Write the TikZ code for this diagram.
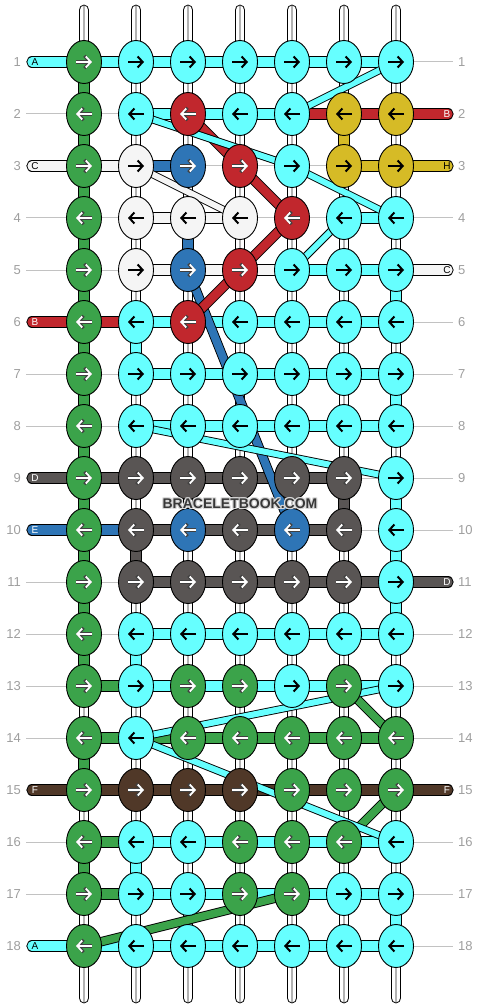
\documentclass[tikz,border=0pt]{standalone}
\usepackage{fontspec}
\setmainfont{Liberation Sans}
\usetikzlibrary{arrows.meta,shapes.geometric,calc}
\definecolor{cC}{RGB}{102,255,255}
\definecolor{cG}{RGB}{59,163,74}
\definecolor{cR}{RGB}{193,39,45}
\definecolor{cB}{RGB}{46,117,182}
\definecolor{cW}{RGB}{245,245,245}
\definecolor{cY}{RGB}{214,187,38}
\definecolor{cD}{RGB}{89,85,84}
\definecolor{cN}{RGB}{80,56,40}
\tikzset{
  seg/.style={draw=#1, line width=9.2pt, preaction={draw=black, line width=11.2pt}},
  endbar/.style={draw=#1, line width=9.2pt, line cap=round, preaction={draw=black, line width=11.2pt, line cap=round}},
  diag/.style 2 args={draw=#1, line width=#2, preaction={draw=black, line width=#2+1.8pt}},
  tube/.style={draw=white, line width=8.8pt, line cap=round, preaction={draw=black, line width=10.8pt, line cap=round}},
  tubeline/.style={draw=black!30, line width=1.2pt},
  rowline/.style={draw=black!24, line width=1pt},
  knot/.style={ellipse, draw=black, line width=0.9pt, minimum width=35pt, minimum height=43pt, inner sep=0pt},
  barr/.style={draw=black, line width=2pt, -{Straight Barb[length=5pt,width=11pt]}},
  warr/.style={draw=white, line width=1.8pt, -{Straight Barb[length=5pt,width=11pt]},
     preaction={draw=black!75, line width=3.1pt, -{Straight Barb[length=5.5pt,width=12.4pt]}}},
  arrC/.style={barr}, arrW/.style={barr}, arrY/.style={barr},
  arrG/.style={warr}, arrR/.style={warr}, arrB/.style={warr}, arrD/.style={warr}, arrN/.style={warr},
  lbl/.style={text=black!38, inner sep=0pt, font=\fontsize{13}{13}\selectfont},
  endtxt/.style={inner sep=0pt, text=#1, font=\fontsize{10}{10}\selectfont},
  wmark/.style={inner sep=0pt, text=#1, font=\bfseries\fontsize{14}{14}\selectfont},
}
\begin{document}
\begin{tikzpicture}[x=1pt,y=-1pt]
\useasboundingbox (0,0) rectangle (480,1008);
% grid coordinates
\foreach \ci in {1,...,7}{\foreach \ri in {1,...,18}{
  \coordinate (p\ci-\ri) at ({84+52*(\ci-1)},{62+52*(\ri-1)});}}
\foreach \ri in {1,...,18}{
  \coordinate (L\ri) at (32,{62+52*(\ri-1)});
  \coordinate (R\ri) at (448,{62+52*(\ri-1)});
  \coordinate (gl\ri) at (26,{62+52*(\ri-1)});
  \coordinate (gr\ri) at (453,{62+52*(\ri-1)});}
\foreach \ci in {1,...,7}{
  \coordinate (t\ci) at ({84+52*(\ci-1)},10);
  \coordinate (b\ci) at ({84+52*(\ci-1)},998);
  \coordinate (tt\ci) at ({84+52*(\ci-1)},6);
  \coordinate (bb\ci) at ({84+52*(\ci-1)},1002);}
% row guide lines
\foreach \ri in {1,...,18}{\draw[rowline] (gl\ri) -- (gr\ri);}
% base strands
\foreach \ci in {1,...,7}{\draw[tube] (t\ci) -- (b\ci); \draw[tubeline] (tt\ci) -- (bb\ci);}
% vertical coloured segments (between row ri and ri+1)
\foreach \ci/\ri/\k in {1/1/G,1/2/G,1/3/G,1/4/G,1/5/G,1/6/G,1/7/G,1/8/G,1/9/G,1/10/G,1/11/G,1/12/G,1/14/G,1/16/G,
  2/6/C,2/10/D,2/12/C,2/16/C, 3/4/B, 6/2/Y,6/9/D, 7/5/C,7/7/C,7/9/C,7/10/C,7/11/C,7/17/C}{
  \pgfmathtruncatemacro\rn{\ri+1}
  \draw[seg=c\k] (p\ci-\ri) -- (p\ci-\rn);}
% horizontal coloured segments (between col ci and ci+1)
\foreach \ri/\ci/\k in {1/1/C,1/2/C,1/3/C,1/4/C,1/5/C,1/6/C,
  2/2/C,2/3/C,2/4/C,2/5/R,2/6/R,
  3/1/W,3/2/B,3/6/Y,
  4/2/W,4/3/W,4/6/C,
  5/2/W,5/3/W,5/4/W,5/5/C,5/6/C,
  6/1/R,6/2/C,6/3/C,6/4/C,6/5/C,6/6/C,
  7/2/C,7/3/C,7/4/C,7/5/C,7/6/C,
  8/2/C,8/3/C,8/4/C,8/5/C,8/6/C,
  9/1/D,9/2/D,9/3/D,9/4/D,9/5/D,
  10/1/B,10/2/D,10/3/D,10/4/D,10/5/D,
  11/2/D,11/3/D,11/4/D,11/5/D,11/6/D,
  12/2/C,12/3/C,12/4/C,12/5/C,12/6/C,
  13/1/G,13/2/C,13/3/C,13/4/C,13/5/C,13/6/C,
  14/1/G,14/2/G,14/3/G,14/4/G,14/5/G,14/6/G,
  15/1/N,15/2/N,15/3/N,15/4/N,15/5/N,15/6/N,
  16/1/G,16/2/C,16/3/C,16/4/C,16/5/C,16/6/C,
  17/1/G,17/2/C,17/3/C,17/4/C,17/5/C,17/6/C,
  18/1/C,18/2/C,18/3/C,18/4/C,18/5/C,18/6/C}{
  \pgfmathtruncatemacro\cn{\ci+1}
  \draw[seg=c\k] (p\ci-\ri) -- (p\cn-\ri);}
% thread ends
\foreach \ri/\k in {1/C,3/W,6/R,9/D,10/B,15/N,18/C}{\draw[endbar=c\k] (p1-\ri) -- (L\ri);}
\foreach \ri/\k in {2/R,3/Y,5/W,11/D,15/N}{\draw[endbar=c\k] (p7-\ri) -- (R\ri);}
% diagonal strands
\draw[diag={cB}{8pt}] (p3-5) -- (p5-10);
\draw[diag={cR}{8.6pt}] (p3-2) -- (p4-3) -- (p5-4) -- (p4-5) -- (p3-6);
\draw[diag={cW}{6pt}] (p2-3) -- (p4-4);
\draw[diag={cG}{7.6pt}] (p6-13) -- (p7-14);
\draw[diag={cG}{7.6pt}] (p7-15) -- (p6-16);
\draw[diag={cG}{7.6pt}] (p1-18) -- (p5-17);
\draw[diag={cC}{6pt}] (p7-1) -- (p5-2);
\draw[diag={cC}{6pt}] (p2-2) -- (p5-3) -- (p7-4);
\draw[diag={cC}{6pt}] (p6-4) -- (p5-5);
\draw[diag={cC}{6pt}] (p2-8) -- (p7-9);
\draw[diag={cC}{6pt}] (p2-14) -- (p7-13);
\draw[diag={cC}{6pt}] (p2-14) -- (p7-16);
% knots
\foreach \ri/\dir/\cols in {
1/1/{G,C,C,C,C,C,C},
2/-1/{G,C,R,C,C,Y,Y},
3/1/{G,W,B,R,C,Y,Y},
4/-1/{G,W,W,W,R,C,C},
5/1/{G,W,B,R,C,C,C},
6/-1/{G,C,R,C,C,C,C},
7/1/{G,C,C,C,C,C,C},
8/-1/{G,C,C,C,C,C,C},
9/1/{G,D,D,D,D,D,C},
10/-1/{G,D,B,D,B,D,C},
11/1/{G,D,D,D,D,D,C},
12/-1/{G,C,C,C,C,C,C},
13/1/{G,C,G,G,C,G,C},
14/-1/{G,C,G,G,G,G,G},
15/1/{G,N,N,N,G,G,G},
16/-1/{G,C,C,G,G,G,C},
17/1/{G,C,C,G,G,C,C},
18/-1/{G,C,C,C,C,C,C}}{
  \foreach \k [count=\ci] in \cols {
    \node[knot, fill=c\k] (k\ci-\ri) at (p\ci-\ri) {};
    \draw[arr\k] ($(k\ci-\ri.center)+({-8*(\dir)},0)$) -- ($(k\ci-\ri.center)+({8*(\dir)},0)$);
  }}
% row labels
\foreach \ri in {1,...,18}{
  \node[lbl, anchor=east] (ll\ri) at ($(gl\ri)+(-5,0)$) {\ri};
  \node[lbl, anchor=west] (lr\ri) at ($(gr\ri)+(5,0)$) {\ri};}
% thread end letters
\foreach \ri/\t/\tc in {1/A/black,3/C/black,6/B/white,9/D/white,10/E/white,15/F/white,18/A/black}{
  \node[endtxt=\tc] (el\ri) at ($(L\ri)+(3,0)$) {\t};}
\foreach \ri/\t/\tc in {2/B/white,3/H/black,5/C/black,11/D/white,15/F/white}{
  \node[endtxt=\tc] (er\ri) at ($(R\ri)+(-1,0)$) {\t};}
% watermark with light halo
\coordinate (wmc) at (240,503.5);
\foreach \dx/\dy in {-1/0,1/0,0/-1,0/1,-1/-1,1/1,-1/1,1/-1}{
  \node[wmark=white!85!black] at ($(wmc)+(\dx,\dy)$) {BRACELETBOOK.COM};}
\node[wmark=black!78] (wm) at (wmc) {BRACELETBOOK.COM};
\end{tikzpicture}
\end{document}
